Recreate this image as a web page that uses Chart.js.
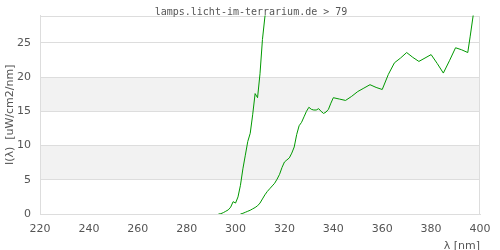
<!DOCTYPE html>
<html><head><meta charset="utf-8">
<script src="https://cdn.jsdelivr.net/npm/chart.js@4"></script>
<style>html,body{margin:0;padding:0;background:#fff}#wrap{width:500px;height:250px;position:relative}</style>
</head><body><div id="wrap"><canvas id="c"></canvas></div>
<script>
const titleText = "lamps.licht-im-terrarium.de > 79";
const xTitle = "λ [nm]";
const yTitle = "I(λ)  [uW/cm2/nm]";
const xTicks = [220, 240, 260, 280, 300, 320, 340, 360, 380, 400];
const yTicks = [0, 5, 10, 15, 20, 25];

const waveA = [293, 294, 295, 296, 297, 298, 299, 300, 301, 302, 303, 304, 305, 306, 307, 308, 309, 310, 311, 312, 313];
const intensityA = [0, 0.05, 0.2, 0.4, 0.6, 1.0, 1.8, 1.6, 2.5, 4.2, 6.6, 8.6, 10.6, 11.8, 14.5, 17.6, 17.0, 20.5, 25.5, 28.8, 31];

const waveB = [302, 303, 304, 305, 306, 307, 308, 309, 310, 311, 312, 313, 314, 315, 316, 317, 318, 319, 320, 321, 322, 323, 324, 325, 326, 327, 328, 329, 330, 331, 332, 333, 334, 335, 336, 337, 338, 339, 340, 342.5, 345, 347.5, 350, 352.5, 355, 357.5, 360, 362.5, 365, 367.5, 370, 372.5, 375, 377.5, 380, 382.5, 385, 387.5, 390, 392.5, 395, 396, 397, 398];
const intensityB = [0, 0.1, 0.25, 0.4, 0.55, 0.75, 0.95, 1.2, 1.6, 2.2, 2.8, 3.3, 3.7, 4.1, 4.5, 5.1, 5.8, 6.8, 7.6, 7.9, 8.2, 8.9, 9.8, 11.6, 12.9, 13.4, 14.2, 15.0, 15.6, 15.3, 15.2, 15.2, 15.4, 15.0, 14.7, 14.9, 15.3, 16.2, 17.0, 16.8, 16.6, 17.2, 17.9, 18.4, 18.9, 18.5, 18.2, 20.4, 22.1, 22.8, 23.6, 22.9, 22.3, 22.8, 23.3, 22.0, 20.6, 22.4, 24.3, 24.0, 23.6, 26.0, 28.5, 31];

const bands = [[5, 10], [15, 20]];

const toXY = (xs, ys) => xs.map((x, i) => ({x: x, y: ys[i]}));

const bgPlugin = {
  id: 'bg',
  beforeDraw(chart) {
    const {ctx, chartArea: a, scales: {y}} = chart;
    ctx.save();
    ctx.fillStyle = '#f2f2f2';
    bands.forEach(([lo, hi]) => {
      const t = y.getPixelForValue(hi), b = y.getPixelForValue(lo);
      ctx.fillRect(a.left, t, a.right - a.left, b - t);
    });
    ctx.restore();
  },
  beforeDatasetsDraw(chart) {
    const {ctx, chartArea: a} = chart;
    ctx.save();
    ctx.strokeStyle = '#dddddd';
    ctx.lineWidth = 1;
    ctx.strokeRect(Math.round(a.left) + 0.5, Math.round(a.top) + 0.5, Math.round(a.right - a.left) - 1, Math.round(a.bottom - a.top));
    ctx.fillStyle = '#555';
    ctx.font = '10px "DejaVu Sans Mono"';
    ctx.textAlign = 'center';
    ctx.textBaseline = 'middle';
    ctx.fillText(titleText, 251, 12);
    ctx.restore();
  }
};

const green = '#009900';
new Chart(document.getElementById('c'), {
  type: 'line',
  data: {
    datasets: [
      {data: toXY(waveA, intensityA), borderColor: green, borderWidth: 1, pointRadius: 0, tension: 0, fill: false},
      {data: toXY(waveB, intensityB), borderColor: green, borderWidth: 1, pointRadius: 0, tension: 0, fill: false}
    ]
  },
  options: {
    responsive: true, maintainAspectRatio: false, animation: false,
    layout: {padding: {top: 3, right: 20, left: 0, bottom: 0}},
    plugins: {legend: {display: false}, tooltip: {enabled: false}},
    scales: {
      x: {
        type: 'linear', min: 220, max: 400,
        afterBuildTicks: s => { s.ticks = xTicks.map(v => ({value: v})); },
        afterFit: s => { s.height = 36; },
        grid: {display: false, drawTicks: false},
        border: {display: true, color: '#dddddd'},
        ticks: {color: '#555', font: {family: 'DejaVu Sans', size: 11}, padding: 9, maxRotation: 0, autoSkip: false},
        title: {display: true, text: xTitle, align: 'end', color: '#555', font: {family: 'DejaVu Sans', size: 11}, padding: {top: 0, bottom: -3}}
      },
      y: {
        type: 'linear', min: 0, max: 29,
        afterBuildTicks: s => { s.ticks = yTicks.map(v => ({value: v})); },
        afterFit: s => { s.width = 40; },
        grid: {color: '#dddddd', drawTicks: false},
        border: {display: true, color: '#dddddd'},
        ticks: {color: '#555', font: {family: 'DejaVu Sans', size: 11}, padding: 9},
        title: {display: true, text: yTitle, color: '#555', font: {family: 'DejaVu Sans', size: 11}, padding: {top: 4, bottom: 0}}
      }
    }
  },
  plugins: [bgPlugin]
});
</script></body></html>
